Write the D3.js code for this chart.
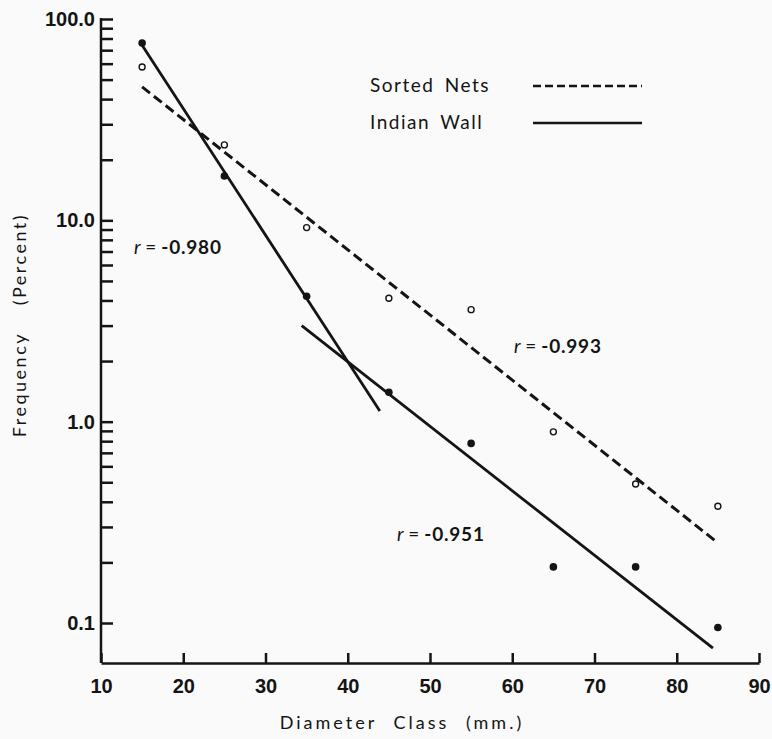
<!DOCTYPE html>
<html>
<head>
<meta charset="utf-8">
<script src="https://cdn.jsdelivr.net/npm/d3@7"></script>
<style>
  body { margin: 0; background: #f9faf9; }
  svg { display: block; font-family: Lato, "Open Sans", sans-serif; }
</style>
</head>
<body>
<div id="plot"></div>
<script>
// diameter classes (mm) and frequencies (percent)
const diameters = [15, 25, 35, 45, 55, 65, 75, 85];
const sortedNets = [57.8, 23.7, 9.2, 4.1, 3.6, 0.89, 0.49, 0.38];
const indianWall = [76, 16.6, 4.2, 1.4, 0.78, 0.19, 0.19, 0.095];

// fitted lines: [diameter, frequency] end points
const sortedFit = [[15, 46], [85, 0.25]];
const wallFitSmall = [[15, 74], [43.9, 1.13]];
const wallFitLarge = [[34.4, 3.0], [84.4, 0.075]];

const xTicks = [10, 20, 30, 40, 50, 60, 70, 80, 90];
const yMajor = [0.1, 1, 10, 100];
const yLabels = ["0.1", "1.0", "10.0", "100.0"];
const yMinor = [0.2, 0.3, 0.4, 0.5, 0.6, 0.7, 0.8, 0.9,
                2, 3, 4, 5, 6, 7, 8, 9,
                20, 30, 40, 50, 60, 70, 80, 90];

const width = 772, height = 739;
const ink = "#141414";

const svg = d3.select("#plot")
  .append("svg")
  .attr("width", width)
  .attr("height", height);

var x = d3.scaleLinear().domain([10, 90]).range([101, 759]);
var y = d3.scaleLog().domain([0.1, 100]).range([623, 19]);
const axisY = 663;

// X axis
const gx = svg.append("g")
  .attr("transform", `translate(0, ${axisY})`)
  .call(d3.axisBottom(x).tickValues(xTicks).tickSizeInner(-10).tickSizeOuter(0).tickPadding(16));
gx.select(".domain").attr("stroke", ink).attr("stroke-width", 2.5);
gx.selectAll(".tick line").attr("stroke", ink).attr("stroke-width", 2.5);
gx.selectAll(".tick text")
  .attr("fill", ink)
  .attr("font-size", "20px")
  .attr("font-weight", 700);

// Y axis (ticks point inward)
const gy = svg.append("g")
  .attr("transform", `translate(${x(10)}, 0)`)
  .call(d3.axisLeft(y).tickValues(yMajor.concat(yMinor)).tickSizeInner(-12).tickSizeOuter(0).tickPadding(6)
    .tickFormat(d => { const i = yMajor.indexOf(d); return i >= 0 ? yLabels[i] : ""; }));
gy.select(".domain").remove();
gy.selectAll(".tick line").attr("stroke", ink).attr("stroke-width", 2.5);
gy.selectAll(".tick text")
  .attr("fill", ink)
  .attr("font-size", "20px")
  .attr("font-weight", 700);
svg.append("line")
  .attr("x1", x(10)).attr("x2", x(10))
  .attr("y1", y(100) - 1).attr("y2", axisY)
  .attr("stroke", ink).attr("stroke-width", 2.5);

// Axis titles
svg.append("text")
  .attr("x", 402).attr("y", 729)
  .attr("text-anchor", "middle")
  .attr("font-size", "18px")
  .attr("letter-spacing", "3px")
  .attr("word-spacing", "9px")
  .attr("fill", ink)
  .text("Diameter Class (mm.)");

svg.append("text")
  .attr("transform", "translate(26, 325) rotate(-90)")
  .attr("text-anchor", "middle")
  .attr("font-size", "18px")
  .attr("letter-spacing", "2.5px")
  .attr("word-spacing", "20px")
  .attr("fill", ink)
  .text("Frequency (Percent)");

// Fitted lines
const line = d3.line().x(d => x(d[0])).y(d => y(d[1]));
svg.append("path").datum(sortedFit)
  .attr("d", line).attr("fill", "none")
  .attr("stroke", ink).attr("stroke-width", 3)
  .attr("stroke-dasharray", "10,5");
[wallFitSmall, wallFitLarge].forEach(f => {
  svg.append("path").datum(f)
    .attr("d", line).attr("fill", "none")
    .attr("stroke", ink).attr("stroke-width", 2.8);
});

// Points
svg.selectAll(".open").data(diameters).enter()
  .append("circle")
  .attr("cx", d => x(d)).attr("cy", (d, i) => y(sortedNets[i]))
  .attr("r", 3).attr("fill", "#f9faf9")
  .attr("stroke", ink).attr("stroke-width", 1.4);
svg.selectAll(".filled").data(diameters).enter()
  .append("circle")
  .attr("cx", d => x(d)).attr("cy", (d, i) => y(indianWall[i]))
  .attr("r", 3.8).attr("fill", ink);

// r labels
function rLabel(px, py, val) {
  const t = svg.append("text")
    .attr("x", px).attr("y", py)
    .attr("font-size", "19px")
    .attr("fill", ink);
  t.append("tspan").attr("font-style", "italic").text("r");
  t.append("tspan").text(" = ");
  t.append("tspan").attr("font-weight", 700).attr("letter-spacing", "0.8px").text(val);
}
rLabel(134, 254, "-0.980");
rLabel(514, 353, "-0.993");
rLabel(397, 541, "-0.951");

// Legend
const legend = [
  { name: "Sorted Nets", dash: "8,4", yy: 86 },
  { name: "Indian Wall", dash: null, yy: 123 }
];
legend.forEach(l => {
  svg.append("text")
    .attr("x", 370).attr("y", l.yy + 6)
    .attr("font-size", "19px")
    .attr("letter-spacing", "1.5px")
    .attr("word-spacing", "4px")
    .attr("fill", ink)
    .text(l.name);
  svg.append("line")
    .attr("x1", 533).attr("x2", 642)
    .attr("y1", l.yy).attr("y2", l.yy)
    .attr("stroke", ink).attr("stroke-width", 2.5)
    .attr("stroke-dasharray", l.dash);
});
</script>
</body>
</html>
